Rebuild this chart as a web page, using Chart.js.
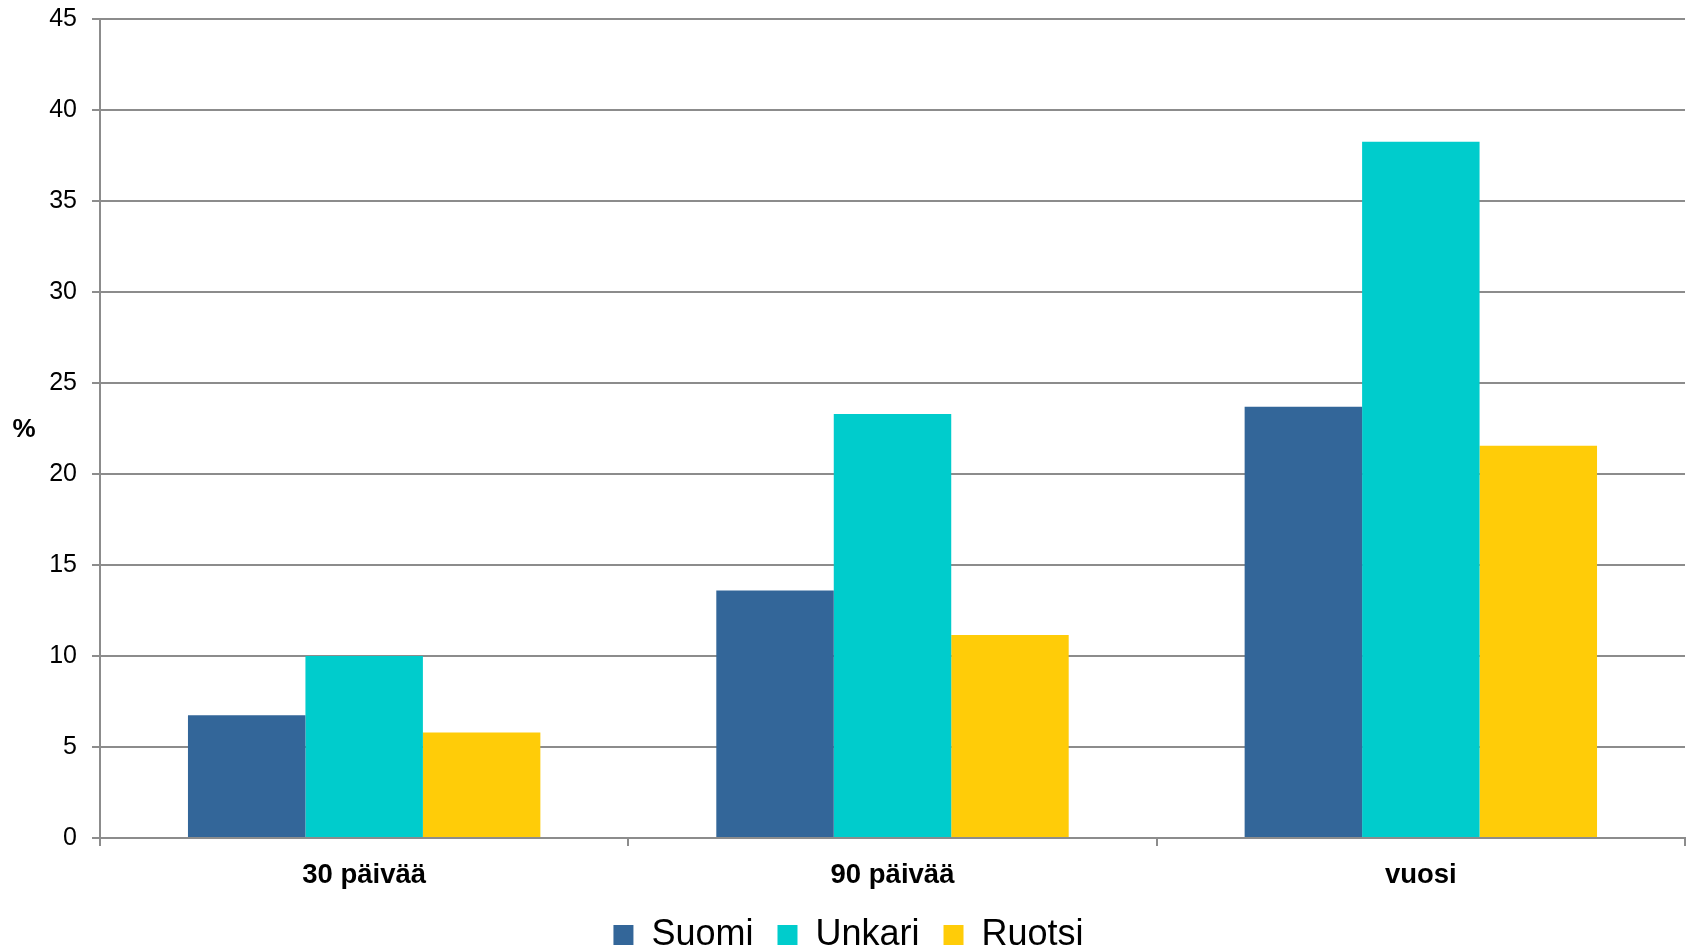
<!DOCTYPE html>
<html lang="fi">
<head>
<meta charset="utf-8">
<title>Osuus (%)</title>
<script src="https://cdn.jsdelivr.net/npm/chart.js@4.4.1/dist/chart.umd.min.js"></script>
<style>
  html, body { margin: 0; padding: 0; background: #fff; }
  #wrap { width: 1688px; height: 950px; }
</style>
</head>
<body>
<div id="wrap"><canvas id="chart" width="1688" height="950"></canvas></div>
<script>
const categories = ['30 päivää', '90 päivää', 'vuosi'];
const suomi = [6.75, 13.6, 23.7];
const unkari = [10.0, 23.3, 38.25];
const ruotsi = [5.8, 11.15, 21.55];
const yTicks = [0, 5, 10, 15, 20, 25, 30, 35, 40, 45];

const FONT = 'Liberation Sans, Arial, Helvetica, sans-serif';
const GRID = '#8c8c8c';

// "%" sits horizontally left of the y axis, so draw it by hand
const unitLabel = {
  id: 'unitLabel',
  afterLayout(chart) {
    // nudge the legend a little right of centre
    chart.legend.left += 6;
    chart.legend.right += 6;
  },
  afterDraw(chart) {
    const { ctx } = chart;
    ctx.save();
    ctx.font = `bold 26px ${FONT}`;
    ctx.fillStyle = '#000';
    ctx.textAlign = 'center';
    ctx.textBaseline = 'middle';
    ctx.fillText('%', 24, 430);
    ctx.restore();
  }
};

new Chart(document.getElementById('chart'), {
  type: 'bar',
  data: {
    labels: categories,
    datasets: [
      { label: 'Suomi', data: suomi, backgroundColor: '#336699' },
      { label: 'Unkari', data: unkari, backgroundColor: '#00cccc' },
      { label: 'Ruotsi', data: ruotsi, backgroundColor: '#ffcc08' }
    ]
  },
  options: {
    responsive: false,
    animation: false,
    layout: { padding: { top: 19, right: 3, left: 0, bottom: 0 } },
    datasets: { bar: { categoryPercentage: 0.667, barPercentage: 1.0, borderWidth: 0 } },
    plugins: {
      legend: {
        position: 'bottom',
        maxHeight: 57,
        labels: {
          boxWidth: 20,
          boxHeight: 20,
          padding: 24,
          color: '#000',
          font: { family: FONT, size: 36 }
        }
      },
      tooltip: { enabled: false }
    },
    scales: {
      x: {
        afterFit(scale) { scale.height = 55; },
        grid: { offset: true, drawOnChartArea: false, drawTicks: true, tickLength: 8, color: GRID, lineWidth: 2 },
        border: { display: true, color: GRID, width: 2 },
        ticks: { color: '#000', padding: 13, font: { family: FONT, size: 27.5, weight: 'bold' } }
      },
      y: {
        min: 0,
        max: 45,
        afterFit(scale) {
          scale.width = 100;
          scale.paddingTop = 0;
          scale.paddingBottom = 0;
        },
        afterBuildTicks(scale) { scale.ticks = yTicks.map(v => ({ value: v })); },
        grid: { color: GRID, lineWidth: 2, tickLength: 8 },
        border: { display: true, color: GRID, width: 2 },
        ticks: { color: '#000', padding: 15, font: { family: FONT, size: 25 } }
      }
    }
  },
  plugins: [unitLabel]
});
</script>
</body>
</html>
